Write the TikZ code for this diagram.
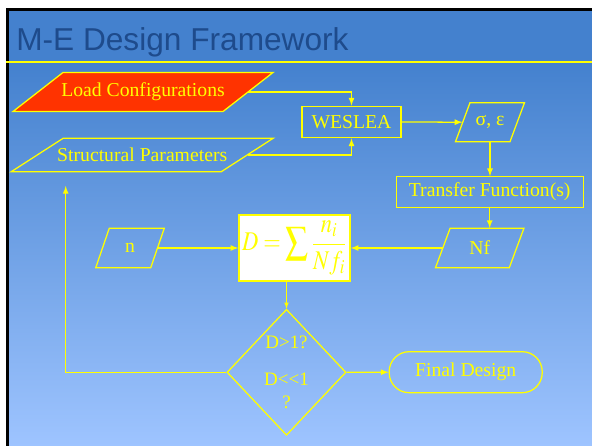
\documentclass[tikz,border=0pt]{standalone}
\usepackage{mathptmx}
\usepackage[no-math]{fontspec}
\setmainfont{Liberation Serif}
\newfontfamily\titlefont{Liberation Sans}
\usepackage{tikz}
\usetikzlibrary{shapes.geometric}
\definecolor{slideblue}{RGB}{68, 129, 206}
\definecolor{slidelight}{RGB}{158, 196, 255}
\definecolor{titleblue}{RGB}{30, 75, 140}
\definecolor{flowyellow}{RGB}{255, 255, 0}
\definecolor{loadred}{RGB}{255, 51, 0}
% slanted outline: centre, half side, half height, half slant, options
\newcommand{\slantbox}[5]{%
  \path[#5, shift={#1}] (-#2+#4,-#3) -- (#2+#4,-#3) -- (#2-#4,#3) -- (-#2-#4,#3) -- cycle;}

\begin{document}
\begin{tikzpicture}[x=0.025cm, y=-0.025cm, font=\fontsize{14}{16}\selectfont,
  outline/.style={draw=flowyellow, line width=0.9pt},
  box/.style={outline, text=flowyellow, inner sep=0pt},
  label/.style={text=flowyellow, inner sep=0pt},
  flow/.style={draw=flowyellow, line width=0.9pt, -latex}]
\useasboundingbox (0,0) rectangle (592,446);

% Slide background and title bar
\fill[white] (0,0) rectangle (592,446);
\fill[black] (6,8) rectangle (592,446);
\shade[top color=slideblue, bottom color=slidelight] (9,62) rectangle (592,446);
\fill[slideblue] (9,11) rectangle (592,62);
\draw[flowyellow, line width=1.4pt] (6,62) -- (592,62);
\node[anchor=base west, inner sep=0pt, text=titleblue,
  font=\titlefont\fontsize{22.5}{26}\selectfont] (title) at (16,50.7) {M-E Design Framework};

% Parallelogram outlines (drawn under their labels)
\slantbox{(143,92)}{105}{19.5}{25}{outline, fill=loadred}
\slantbox{(142.2,155)}{105}{16.75}{26}{outline}
\slantbox{(490,122.2)}{27.25}{19.5}{7.25}{outline}
\slantbox{(479.7,248)}{36.9}{19.7}{7.3}{outline}
\slantbox{(130,248)}{27.5}{19.7}{6.75}{outline}

% Inputs and analysis chain
\node[label, minimum width=5.25cm, minimum height=0.975cm] (lc) at (143,92) {Load Configurations};
\node[label, minimum width=5.25cm, minimum height=0.84cm] (sp) at (142.2,155) {Structural Parameters};
\node[box, minimum width=2.475cm, minimum height=0.79cm] (wes) at (351.5,122) {WESLEA};
\node[label, minimum width=1.3625cm, minimum height=0.975cm] (sig) at (490,122.2) {σ, ε};
\node[box, minimum width=4.675cm, minimum height=0.76cm] (tf) at (489.7,192) {Transfer Function(s)};
\node[label, minimum width=1.845cm, minimum height=0.985cm] (nf) at (479.7,248) {Nf};
\node[label, minimum width=1.375cm, minimum height=0.985cm] (n) at (130,248) {n};
\node[box, fill=white, minimum width=2.775cm, minimum height=1.65cm, font=\fontsize{16}{18}\selectfont] (dbox) at (294.5,248)
  {\scalebox{1}[1.2]{$\displaystyle D=\sum\frac{n_i}{Nf_i}$}};

% Decision and result
\node[box, diamond, minimum width=2.975cm, minimum height=3.15cm, align=center,
  font=\fontsize{13.5}{16.3}\selectfont] (dec) at (286.5,372.3) {D>1?\\[10pt]D<{}<1\\?};
\node[box, rounded corners=0.5cm, minimum width=3.825cm, minimum height=1.025cm] (fin) at (465.7,372.2) {Final Design};
\coordinate (back) at (65.7,186);

% Connectors
\draw[flow] (lc.east) -| (wes.north);
\draw[flow] (sp.east) -| (wes.south);
\draw[flow] (wes.east) -- (sig.west);
\draw[flow] (sig.south) -- (sig.south |- tf.north);
\draw[flow] (tf.south) -- (tf.south |- nf.north);
\draw[flow] (nf.west) -- (dbox.east);
\draw[flow] (n.east) -- (dbox.west);
\draw[flow, line width=0.5pt] (dec.north |- dbox.south) -- (dec.north);
\draw[flow] (dec.east) -- (fin.west);
\draw[flow] (dec.west) -| (back);
\end{tikzpicture}
\end{document}
